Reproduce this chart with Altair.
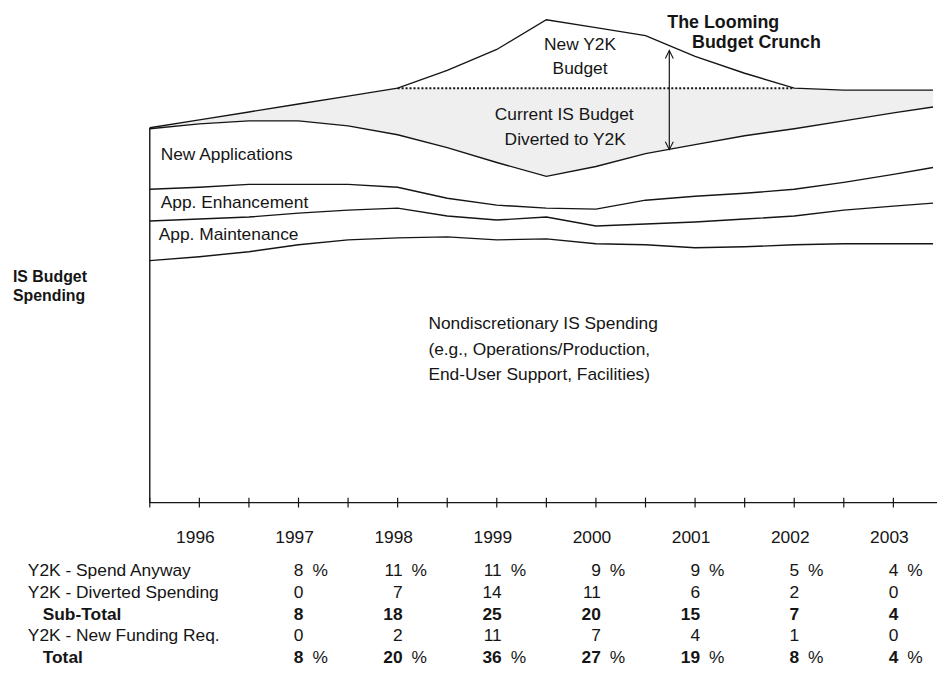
import altair as alt
import pandas as pd

# ---------------- data ----------------
x_years = [1995.5, 1996.0, 1996.5, 1997.0, 1997.5, 1998.0, 1998.5, 1999.0, 1999.5,
           2000.0, 2000.5, 2001.0, 2001.5, 2002.0, 2002.5, 2003.0, 2003.4]

# budget levels (arbitrary budget units, 0 = bottom of chart)
total_with_y2k = [75.6, 77.2, 78.8, 80.4, 82.0, 83.6, 87.2, 91.4, 97.4,
                  95.8, 94.2, 90.0, 86.6, 83.6, 83.2, 83.2, 83.2]
current_budget = [75.6, 77.2, 78.8, 80.4, 82.0, 83.6, 83.6, 83.6, 83.6,
                  83.6, 83.6, 83.6, 83.6, 83.6, 83.2, 83.2, 83.2]
new_apps_top = [75.4, 76.4, 77.0, 77.0, 76.0, 74.2, 71.6, 68.6, 65.8,
                67.8, 70.4, 72.2, 74.0, 75.4, 77.0, 78.6, 79.8]
enhancement_top = [63.2, 63.6, 64.2, 64.2, 64.2, 63.6, 61.4, 60.0, 59.4,
                   59.2, 61.0, 61.8, 62.4, 63.2, 64.6, 66.2, 67.6]
maintenance_top = [56.8, 57.2, 57.6, 58.4, 59.0, 59.4, 57.8, 57.0, 57.6,
                   55.8, 56.2, 56.6, 57.2, 57.8, 59.0, 59.8, 60.4]
nondisc_top = [48.8, 49.6, 50.6, 52.0, 53.0, 53.4, 53.6, 53.0, 53.2,
               52.2, 52.0, 51.4, 51.6, 52.0, 52.2, 52.2, 52.2]

axis_years = [1996, 1997, 1998, 1999, 2000, 2001, 2002, 2003]
tick_years = [1995.5 + 0.5 * k for k in range(16)]

table_years = [1997, 1998, 1999, 2000, 2001, 2002, 2003]
spend_anyway = [8, 11, 11, 9, 9, 5, 4]
diverted = [0, 7, 14, 11, 6, 2, 0]
sub_total = [8, 18, 25, 20, 15, 7, 4]
new_funding = [0, 2, 11, 7, 4, 1, 0]
total = [8, 20, 36, 27, 19, 8, 4]

row_labels = ["Y2K - Spend Anyway", "Y2K - Diverted Spending", "Sub-Total",
              "Y2K - New Funding Req.", "Total"]
row_values = [spend_anyway, diverted, sub_total, new_funding, total]
row_bold = [False, False, True, False, True]
row_pct = [True, False, False, False, True]

center_labels = [("New Y2K", 1999.84, 92.2), ("Budget", 1999.84, 87.4),
                 ("Current IS Budget", 1999.68, 78.2), ("Diverted to Y2K", 1999.69, 73.2)]
left_labels = [("New Applications", 1995.61, 70.2), ("App. Enhancement", 1995.61, 60.4),
               ("App. Maintenance", 1995.59, 54.0),
               ("Nondiscretionary IS Spending", 1998.31, 36.0),
               ("(e.g., Operations/Production,", 1998.31, 30.8),
               ("End-User Support, Facilities)", 1998.31, 25.8)]
title_labels = [("The Looming", 2000.72, 96.8), ("Budget Crunch", 2000.97, 92.6)]
side_labels = ["IS Budget", "Spending"]

arrow_year, arrow_top, arrow_bottom = 2000.74, 91.2, 71.2

# ---------------- layout / style ----------------
W, H = 790, 496
FONT = "Liberation Sans"
FS = 17.5
INK = "#151515"
xs = alt.Scale(domain=[1995.5, 2003.4], nice=False, zero=False)
ys = alt.Scale(domain=[0, 99.2], nice=False, zero=False)
X = lambda f: alt.X(f, type="quantitative", scale=xs, axis=None)
Y = lambda f: alt.Y(f, type="quantitative", scale=ys, axis=None)
dummy = pd.DataFrame({"a": [0]})

# ---------------- layers ----------------
band_df = pd.DataFrame({"year": x_years, "top": current_budget, "bottom": new_apps_top})
area = alt.Chart(band_df).mark_area(color="#efefef", opacity=1).encode(
    x=X("year"), y=Y("top"), y2="bottom")

series = {"total": total_with_y2k, "newapps": new_apps_top, "enh": enhancement_top,
          "maint": maintenance_top, "nondisc": nondisc_top}
lines_df = pd.DataFrame([{"year": x, "level": v, "series": k}
                         for k, vals in series.items() for x, v in zip(x_years, vals)])
lines = alt.Chart(lines_df).mark_line(color=INK, strokeWidth=1.4).encode(
    x=X("year"), y=Y("level"), detail="series:N")

dot_df = pd.DataFrame({"year": x_years, "level": current_budget})
dot_df = dot_df[(dot_df.year >= 1998.0) & (dot_df.year <= 2002.0)]
dotted = alt.Chart(dot_df).mark_line(color=INK, strokeWidth=2, strokeDash=[2, 2]).encode(
    x=X("year"), y=Y("level"))

xaxis_line = alt.Chart(dummy).mark_rule(color=INK, strokeWidth=1.2).encode(
    x=alt.value(0), x2=alt.value(W + 4), y=alt.value(H))
ticks = alt.Chart(pd.DataFrame({"t": tick_years})).mark_rule(color=INK, strokeWidth=1.2).encode(
    x=X("t"), y=alt.value(H - 5), y2=alt.value(H + 5))
yaxis_line = alt.Chart(pd.DataFrame({"lo": [0], "hi": [total_with_y2k[0]]})).mark_rule(
    color=INK, strokeWidth=1.4).encode(x=alt.value(0), y=Y("lo"), y2="hi")

arrow_df = pd.DataFrame({"year": [arrow_year], "top": [arrow_top], "bottom": [arrow_bottom]})
arrow = alt.Chart(arrow_df).mark_rule(color=INK, strokeWidth=1.2).encode(
    x=X("year"), y=Y("top"), y2="bottom")
head_up = alt.Chart(arrow_df).mark_point(
    shape="M-0.5,1L0,0L0.5,1", size=256, filled=False, color=INK, strokeWidth=1.1, opacity=1
).encode(x=X("year"), y=Y("top"))
head_down = alt.Chart(arrow_df).mark_point(
    shape="M-0.5,-1L0,0L0.5,-1", size=256, filled=False, color=INK, strokeWidth=1.1, opacity=1
).encode(x=X("year"), y=Y("bottom"))


def label_layer(rows, align, weight, size):
    df = pd.DataFrame(rows, columns=["text", "year", "level"])
    return alt.Chart(df).mark_text(align=align, baseline="middle", font=FONT, fontSize=size,
                                   fontWeight=weight, color=INK).encode(
        x=X("year"), y=Y("level"), text="text:N")


centers = label_layer(center_labels, "center", "normal", FS)
lefts = label_layer(left_labels, "left", "normal", FS)
titles = label_layer(title_labels, "left", "bold", 18)

side_layers = []
for i, s in enumerate(side_labels):
    side_layers.append(alt.Chart(dummy).mark_text(
        align="left", baseline="middle", font=FONT, fontSize=16, fontWeight="bold",
        color=INK).encode(x=alt.value(-138), y=alt.value(269 + 19 * i), text=alt.value(s)))

year_labels = alt.Chart(pd.DataFrame({"year": axis_years})).mark_text(
    align="center", baseline="middle", font=FONT, fontSize=FS, color=INK, dx=-4).encode(
    x=X("year"), y=alt.value(532), text="year:N")

table_layers = []
row_y = [565, 587, 609, 631, 653]
for lab, vals, bold, pct, ry in zip(row_labels, row_values, row_bold, row_pct, row_y):
    w = "bold" if bold else "normal"
    lx = -108 if bold else -123
    table_layers.append(alt.Chart(dummy).mark_text(
        align="left", baseline="middle", font=FONT, fontSize=FS, fontWeight=w, color=INK).encode(
        x=alt.value(lx), y=alt.value(ry), text=alt.value(lab)))
    vdf = pd.DataFrame({"year": table_years, "v": [str(v) for v in vals]})
    table_layers.append(alt.Chart(vdf).mark_text(
        align="right", baseline="middle", font=FONT, fontSize=FS, fontWeight=w, color=INK, dx=5).encode(
        x=X("year"), y=alt.value(ry), text="v:N"))
    if pct:
        table_layers.append(alt.Chart(vdf).mark_text(
            align="left", baseline="middle", font=FONT, fontSize=FS, color=INK, dx=14).encode(
            x=X("year"), y=alt.value(ry), text=alt.value("%")))

chart = alt.layer(
    area, lines, dotted, xaxis_line, ticks, yaxis_line, arrow, head_up, head_down,
    centers, lefts, titles, *side_layers, year_labels, *table_layers
).properties(
    width=W, height=H,
    autosize=alt.AutoSizeParams(type="none"),
    padding={"left": 143, "top": 0, "right": 4, "bottom": 164},
    background="white",
).configure_view(stroke=None)

chart.save("out.html", embed_options={"renderer": "svg", "actions": False})
